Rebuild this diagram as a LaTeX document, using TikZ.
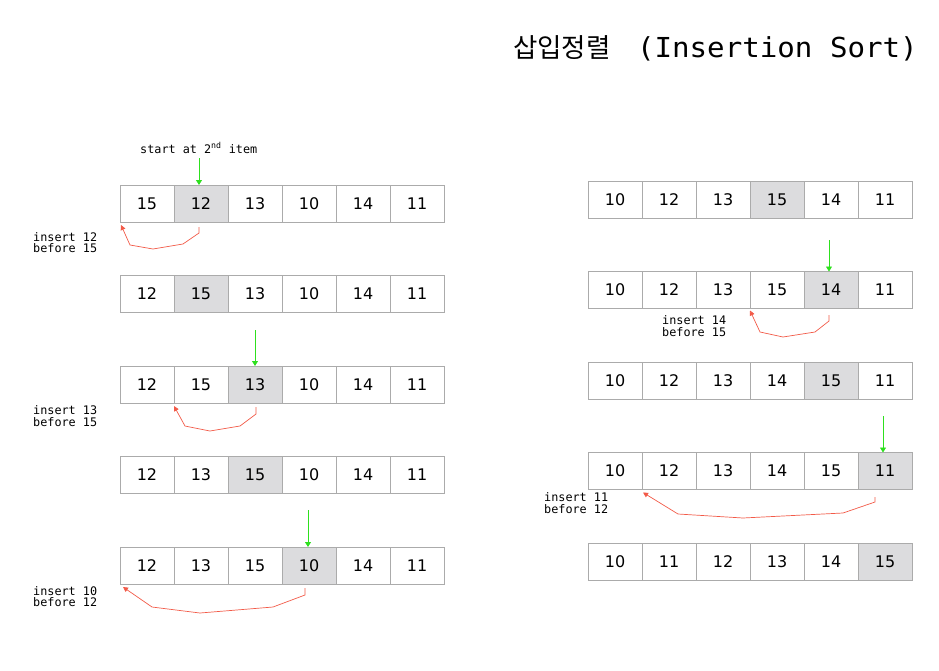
\documentclass[tikz,border=0pt]{standalone}
\usepackage{fontspec}
\usetikzlibrary{arrows.meta}
\newfontfamily\krfont{Noto Sans CJK KR}
\newfontfamily\ttlfont[FakeStretch=1.06]{DejaVu Sans Mono}
\newfontfamily\lblfont{DejaVu Sans Mono}
\newfontfamily\numfont{DejaVu Sans}
\definecolor{cellline}{HTML}{ABABAB}
\definecolor{hlfill}{HTML}{DCDCDE}
\definecolor{grn}{HTML}{2EE01E}
\definecolor{rd}{HTML}{F25A48}
\tikzset{
  cell/.style={draw=cellline, line width=1pt, fill=white, minimum width=54pt, minimum height=37pt,
    inner sep=0pt, outer sep=0pt, font=\numfont\fontsize{16}{18}\selectfont},
  hl/.style={cell, fill=hlfill},
  lbl/.style={font=\lblfont\fontsize{11.8}{11.6}\selectfont, align=left, inner sep=0pt},
  gar/.style={draw=grn, line width=0.8pt, -{Triangle[width=6pt,length=5pt]}},
  rar/.style={draw=rd, line width=0.7pt, -{Triangle[width=5pt,length=5pt]}}
}
\newcommand\cellrow[5]{%
  \foreach \v [count=\i] in {#5} {%
    \ifnum\i=#4\relax\def\cstyle{hl}\else\def\cstyle{cell}\fi
    \node[\cstyle] (#1-\i) at ({#2+27+54*(\i-1)},#3) {\v};
  }%
}
\begin{document}
\begin{tikzpicture}[x=1pt,y=-1pt]
\useasboundingbox (0,0) rectangle (939,670);
% title
\node[anchor=base west, inner sep=0pt, font=\krfont\fontsize{26.5}{30}\selectfont] (tk) at (513,57) {삽입정렬};
\node[anchor=base east, inner sep=0pt, font=\ttlfont\fontsize{27.5}{30}\selectfont] (te) at (918,57) {(Insertion Sort)};
% left column
\cellrow{L1}{120}{203.5}{2}{15,12,13,10,14,11}
\cellrow{L2}{120}{294}{2}{12,15,13,10,14,11}
\cellrow{L3}{120}{384.5}{3}{12,15,13,10,14,11}
\cellrow{L4}{120}{475}{3}{12,13,15,10,14,11}
\cellrow{L5}{120}{565.5}{4}{12,13,15,10,14,11}
% right column
\cellrow{R1}{588}{200}{4}{10,12,13,15,14,11}
\cellrow{R2}{588}{290}{5}{10,12,13,15,14,11}
\cellrow{R3}{588}{381}{5}{10,12,13,14,15,11}
\cellrow{R4}{588}{471}{6}{10,12,13,14,15,11}
\cellrow{R5}{588}{561.5}{6}{10,11,12,13,14,15}
% labels
\node[lbl, anchor=base west] (st) at (140,153) {start at 2\textsuperscript{nd} item};
\node[lbl, anchor=west] (t1) at (33,242.5) {insert 12\\before 15};
\node[lbl, anchor=west] (t3) at (33,416) {insert 13\\before 15};
\node[lbl, anchor=west] (t5) at (33,596.5) {insert 10\\before 12};
\node[lbl, anchor=west] (t7) at (662,326) {insert 14\\before 15};
\node[lbl, anchor=west] (t9) at (544,503) {insert 11\\before 12};
% green arrows
\coordinate (g1) at (199,158);
\draw[gar] (g1) -- (g1 |- L1-2.north);
\coordinate (g3) at (255,330);
\draw[gar] (g3) -- (L3-3.north);
\coordinate (g5) at (308,510);
\draw[gar] (g5) -- (g5 |- L5-4.north);
\coordinate (g7) at (829,240);
\draw[gar] (g7) -- (g7 |- R2-5.north);
\coordinate (g9) at (883,416);
\draw[gar] (g9) -- (g9 |- R4-6.north);
% red arrows
\coordinate (r1) at (199,227);
\draw[rar] (r1) -- (199,233) -- (183,244) -- (153,249) -- (130,245) -- ([shift={(1,3)}]L1-1.south west);
\coordinate (r3) at (256,407);
\draw[rar] (r3) -- (256,414) -- (240,426) -- (210,431) -- (185,426) -- ([shift={(0,3)}]L3-2.south west);
\coordinate (r5) at (305,588);
\draw[rar] (r5) -- (305,595) -- (273,607) -- (200,613) -- (152,607) -- ([shift={(3,3)}]L5-1.south west);
\coordinate (r7) at (829,315);
\draw[rar] (r7) -- (829,321) -- (815,332) -- (783,337) -- (760,332) -- ([shift={(0,2)}]R2-4.south west);
\coordinate (r9) at (875,497);
\draw[rar] (r9) -- (875,502) -- (843,513) -- (743,518) -- (678,514) -- ([shift={(1,3)}]R4-2.south west);
\end{tikzpicture}
\end{document}
